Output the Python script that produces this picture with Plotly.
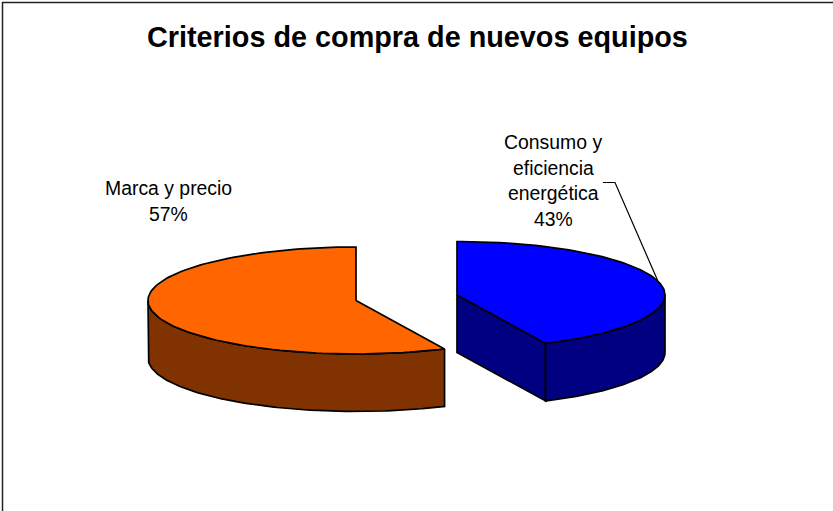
import numpy as np
import plotly.graph_objects as go

TITLE = "Criterios de compra de nuevos equipos"
categories = ["Marca y precio", "Consumo y eficiencia energética"]
values = [57, 43]
label_lines = [["Marca y precio", "57%"], ["Consumo y", "eficiencia", "energética", "43%"]]

TOP_COLORS = ["#FF6600", "#0000FF"]
SIDE_COLORS = ["#803300", "#000080"]
FRONT_COLORS = ["#803300", "#000080"]

RX, RY, DEPTH = 208, 53.5, 57.5
CENTERS = [(356, 300.5), (457, 295)]

split = 360 * values[1] / sum(values)  # clockwise from 12 o'clock


def pt(c, t, dy=0):
    t = np.radians(t)
    return c[0] + RX * np.sin(t), c[1] - RY * np.cos(t) + dy


def arc(c, a, b, dy=0):
    ts = np.linspace(a, b, 120)
    return pt(c, ts, dy)


def poly(fig, xs, ys, color):
    xs, ys = list(xs), list(ys)
    xs.append(xs[0])
    ys.append(ys[0])
    fig.add_trace(go.Scatter(x=xs, y=ys, mode="lines", fill="toself",
                             fillcolor=color, line=dict(color="black", width=1.7),
                             hoverinfo="skip", showlegend=False))


fig = go.Figure()

# Orange slice: runs from the split angle round to 12 o'clock
c = CENTERS[0]
x1, y1 = arc(c, split, 270)
x2, y2 = arc(c, 270, split, DEPTH)
poly(fig, np.r_[x1, x2], np.r_[y1, y2], SIDE_COLORS[0])
x, y = arc(c, split, 360)
poly(fig, np.r_[c[0], x], np.r_[c[1], y], TOP_COLORS[0])

# Blue slice: runs from 12 o'clock to the split angle
c = CENTERS[1]
ex, ey = pt(c, split)
poly(fig, [c[0], ex, ex, c[0]],
     [c[1], ey, ey + DEPTH, c[1] + DEPTH], FRONT_COLORS[1])
x1, y1 = arc(c, 90, split)
x2, y2 = arc(c, split, 90, DEPTH)
poly(fig, np.r_[x1, x2], np.r_[y1, y2], SIDE_COLORS[1])
x, y = arc(c, 0, split)
poly(fig, np.r_[c[0], x], np.r_[c[1], y], TOP_COLORS[1])

# Leader line to the middle of the blue slice
lx, ly = pt(c, split * 0.5)
fig.add_trace(go.Scatter(x=[603, 615, lx - 2], y=[182.5, 182.5, ly - 2], mode="lines",
                         line=dict(color="black", width=1.2), hoverinfo="skip", showlegend=False))

# Chart area border (top and left only visible)
fig.add_shape(type="line", x0=2, x1=833, y0=2.5, y1=2.5, line=dict(color="#222222", width=1.5))
fig.add_shape(type="line", x0=2.5, x1=2.5, y0=2, y1=511, line=dict(color="#222222", width=1.5))

FONT = "Liberation Sans, Arial, sans-serif"
fig.add_annotation(x=417.5, y=37, text=f"<b>{TITLE}</b>", showarrow=False,
                   font=dict(family=FONT, size=28.8, color="black"),
                   xanchor="center", yanchor="middle")

LABEL_POS = [(168.5, [188, 214]), (553, [142, 168, 193, 219])]
for lines, (lxc, ys) in zip(label_lines, LABEL_POS):
    for line, yy in zip(lines, ys):
        fig.add_annotation(x=lxc, y=yy, text=line, showarrow=False,
                           font=dict(family=FONT, size=19.4, color="black"),
                           xanchor="center", yanchor="middle")

fig.update_layout(
    width=833, height=511, margin=dict(l=0, r=0, t=0, b=0),
    paper_bgcolor="white", plot_bgcolor="white", showlegend=False,
    xaxis=dict(range=[0, 833], visible=False, fixedrange=True),
    yaxis=dict(range=[511, 0], visible=False, fixedrange=True),
)
fig.write_html("out.html", config={"displayModeBar": False},
               post_script="document.body.style.margin='0';document.body.style.overflow='hidden';")
